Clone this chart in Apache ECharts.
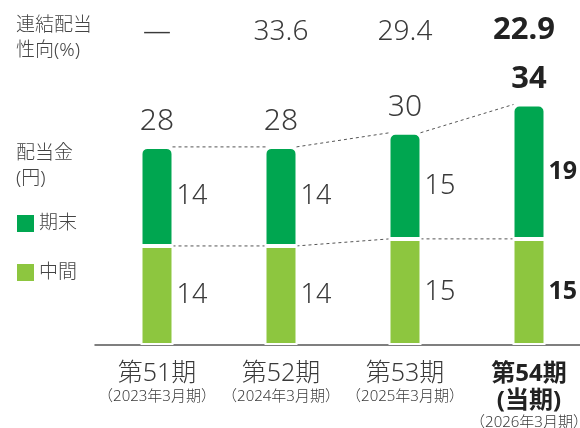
<!DOCTYPE html>
<html>
<head>
<meta charset="utf-8">
<script src="https://cdn.jsdelivr.net/npm/echarts@6/dist/echarts.min.js"></script>
<style>
  html, body { margin: 0; padding: 0; background: #fff; }
  #chart { width: 580px; height: 428px; }
</style>
</head>
<body>
<div id="chart"></div>
<script>
const periods = ['第51期', '第52期', '第53期', '第54期']
const fiscalYears = ['（2023年3月期）', '（2024年3月期）', '（2025年3月期）', '（2026年3月期）']
const interim = [14, 14, 15, 15]
const yearEnd = [14, 14, 15, 19]
const totals = [28, 28, 30, 34]
const payoutRatio = ['—', '33.6', '29.4', '22.9']

const FONT = "'Noto Sans', 'Noto Sans CJK JP', sans-serif"
const TEXT = '#3a3a3a'
const DARK = '#00a650'
const LIGHT = '#8dc63f'
const last = periods.length - 1

const chart = echarts.init(document.getElementById('chart'))

// 棒の端どうしを点線でつなぐ
function renderDots(params, api) {
  const i = api.value(0)
  if (i >= last) return
  const half = 15.5
  const lines = [totals, interim].map(arr => {
    const p1 = api.coord([i, arr[i]])
    const p2 = api.coord([i + 1, arr[i + 1]])
    return {
      type: 'line',
      shape: { x1: p1[0] + half, y1: p1[1], x2: p2[0] - half, y2: p2[1] },
      style: { stroke: '#555', lineWidth: 1, lineDash: [3, 3] }
    }
  })
  return { type: 'group', children: lines }
}

const numLabel = {
  a: { fontSize: 27, color: TEXT, fontFamily: FONT, fontWeight: 300 },
  b: { fontSize: 25, color: '#222', fontFamily: FONT, fontWeight: 'bold' }
}

chart.setOption({
  textStyle: { fontFamily: FONT },
  title: [
    { text: '連結配当\n性向(%)', left: 11, top: 8,
      textStyle: { fontSize: 19, lineHeight: 25, fontWeight: 300, color: '#444', fontFamily: FONT } },
    { text: '配当金\n(円)', left: 11, top: 136,
      textStyle: { fontSize: 19, lineHeight: 25, fontWeight: 300, color: '#444', fontFamily: FONT } }
  ],
  legend: {
    data: ['期末', '中間'],
    orient: 'vertical',
    left: 12,
    top: 209,
    icon: 'rect',
    itemWidth: 17,
    itemHeight: 17,
    itemGap: 30,
    itemStyle: { borderWidth: 0 },
    textStyle: { fontSize: 19, color: '#444', fontFamily: FONT, fontWeight: 300 }
  },
  grid: { left: 95, right: -11, top: 62, bottom: 83, outerBoundsMode: 'none', containLabel: false },
  xAxis: [
    {
      type: 'category',
      data: periods,
      axisTick: { show: false },
      axisLine: { lineStyle: { color: '#555', width: 1.5 } },
      axisLabel: {
        interval: 0,
        margin: 15,
        formatter: (v, i) => i === last
          ? `{b|${v}}\n{bb|(当期)}\n{s|${fiscalYears[i]}}`
          : `{a|${v}}\n{s|${fiscalYears[i]}}`,
        rich: {
          a: { fontSize: 25, lineHeight: 28, color: TEXT, fontFamily: FONT, fontWeight: 300 },
          b: { fontSize: 24, lineHeight: 28, color: '#222', fontFamily: FONT, fontWeight: 'bold' },
          bb: { fontSize: 24, lineHeight: 26, color: '#222', fontFamily: FONT, fontWeight: 'bold' },
          s: { fontSize: 15, lineHeight: 18, color: TEXT, fontFamily: FONT, fontWeight: 300 }
        }
      }
    },
    {
      type: 'category',
      data: periods,
      position: 'top',
      axisTick: { show: false },
      axisLine: { show: false },
      axisLabel: {
        interval: 0,
        margin: 16,
        formatter: (v, i) => i === last ? `{b|${payoutRatio[i]}}` : `{a|${payoutRatio[i]}}`,
        rich: {
          a: { fontSize: 28, color: TEXT, fontFamily: FONT, fontWeight: 300 },
          b: { fontSize: 31, color: '#222', fontFamily: FONT, fontWeight: 'bold', padding: [0, 10, 0, 0] }
        }
      }
    }
  ],
  yAxis: { type: 'value', min: 0, max: 40, show: false },
  series: [
    {
      name: '中間',
      type: 'bar',
      stack: 'dps',
      barWidth: 33,
      data: interim,
      itemStyle: { color: LIGHT, borderColor: '#fff', borderWidth: 2 },
      label: {
        show: true,
        position: 'right',
        distance: 3,
        formatter: p => p.dataIndex === last ? `{b|${p.value}}` : `{a|${p.value}}`,
        rich: numLabel
      }
    },
    {
      name: '期末',
      type: 'bar',
      stack: 'dps',
      barWidth: 33,
      data: yearEnd,
      itemStyle: { color: DARK, borderColor: '#fff', borderWidth: 2, borderRadius: [6, 6, 0, 0] },
      label: {
        show: true,
        position: 'right',
        distance: 3,
        formatter: p => p.dataIndex === last ? `{b|${p.value}}` : `{a|${p.value}}`,
        rich: numLabel
      }
    },
    {
      name: '合計',
      type: 'bar',
      stack: 'dps',
      barWidth: 33,
      data: totals.map(() => 0),
      itemStyle: { color: 'transparent' },
      label: {
        show: true,
        position: 'top',
        distance: 10,
        formatter: p => p.dataIndex === last ? `{b|${totals[p.dataIndex]}}` : `{a|${totals[p.dataIndex]}}`,
        rich: {
          a: { fontSize: 30, color: TEXT, fontFamily: FONT, fontWeight: 300 },
          b: { fontSize: 31, color: '#222', fontFamily: FONT, fontWeight: 'bold' }
        }
      }
    },
    {
      type: 'custom',
      renderItem: renderDots,
      data: periods.map((p, i) => [i]),
      silent: true,
      z: 1
    }
  ]
})
</script>
</body>
</html>
